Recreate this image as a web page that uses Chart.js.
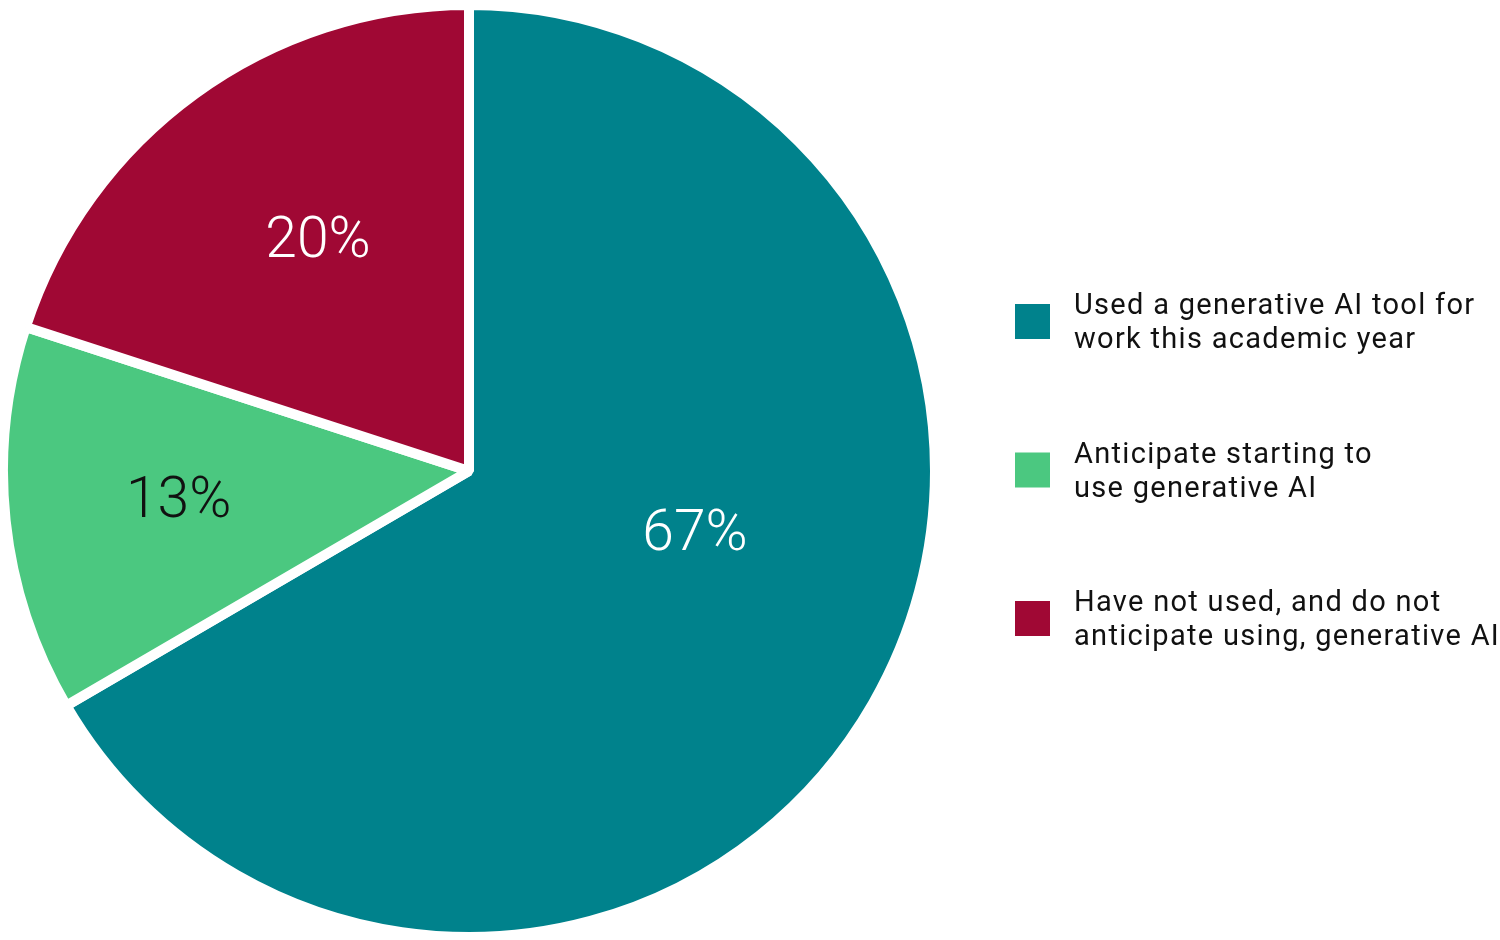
<!DOCTYPE html>
<html>
<head>
<meta charset="utf-8">
<script src="https://cdn.jsdelivr.net/npm/chart.js@4"></script>
<style>
  html, body { margin: 0; padding: 0; background: #fff; overflow: hidden; }
  body { width: 1500px; height: 940px; position: relative; }
  #pie { position: absolute; left: -10px; top: -10px; }
</style>
</head>
<body>
<canvas id="pie" width="1520" height="960"></canvas>
<script>
// chart data
const categories = [
  ['Used a generative AI tool for', 'work this academic year'],
  ['Anticipate starting to', 'use generative AI'],
  ['Have not used, and do not', 'anticipate using, generative AI']
]
// slice sizes as drawn, and the rounded figures printed on them
const shares = [66.6, 13.4, 20]
const shareLabels = ['67%', '13%', '20%']
const colors = ['#00828C', '#4BC880', '#A00834']
const labelColors = ['#ffffff', '#111111', '#ffffff']

// canvas is shifted by 10px so the pie can fill the full page height
const shift = 10

// baseline spot of each % label, as a fraction of the outer radius from the centre
const labelSpots = [[0.485, 0.170], [-0.623, 0.099], [-0.324, -0.459]]

const pctLabels = {
  id: 'pctLabels',
  afterDatasetsDraw (chart) {
    const ctx = chart.ctx
    const meta = chart.getDatasetMeta(0)
    ctx.save()
    ctx.font = '300 57px Roboto'
    ctx.textAlign = 'center'
    ctx.textBaseline = 'alphabetic'
    meta.data.forEach((arc, i) => {
      const r = arc.outerRadius
      ctx.fillStyle = labelColors[i]
      ctx.fillText(shareLabels[i], arc.x + labelSpots[i][0] * r, arc.y + labelSpots[i][1] * r)
    })
    ctx.restore()
  }
}

const sideLegend = {
  id: 'sideLegend',
  afterDraw (chart) {
    const ctx = chart.ctx
    const boxX = 1015 + shift
    const textX = 1074 + shift
    const firstBox = 304 + shift
    const step = 148.5
    const box = 35
    const lineH = 34
    ctx.save()
    ctx.font = '400 29px Roboto'
    ctx.letterSpacing = '1.3px'
    ctx.textBaseline = 'alphabetic'
    ctx.textAlign = 'left'
    categories.forEach((lines, i) => {
      const y = firstBox + i * step
      ctx.fillStyle = colors[i]
      ctx.fillRect(boxX, y, box, box)
      ctx.fillStyle = '#111111'
      lines.forEach((t, j) => {
        ctx.fillText(t, textX, y + 10 + j * lineH)
      })
    })
    ctx.restore()
  }
}

const ctx = document.getElementById('pie').getContext('2d')
const pie = new Chart(ctx, {
  type: 'pie',
  data: {
    labels: categories.map(l => l.join(' ')),
    datasets: [{
      data: shares,
      backgroundColor: colors,
      borderColor: '#ffffff',
      borderWidth: 10,
      hoverBorderWidth: 10,
      hoverOffset: 0
    }]
  },
  options: {
    responsive: false,
    animation: false,
    devicePixelRatio: 1,
    layout: {
      padding: { left: 8, top: 10, bottom: 8, right: 570 }
    },
    plugins: {
      legend: { display: false },
      tooltip: { enabled: false }
    },
    events: []
  },
  plugins: [pctLabels, sideLegend]
})
</script>
</body>
</html>
